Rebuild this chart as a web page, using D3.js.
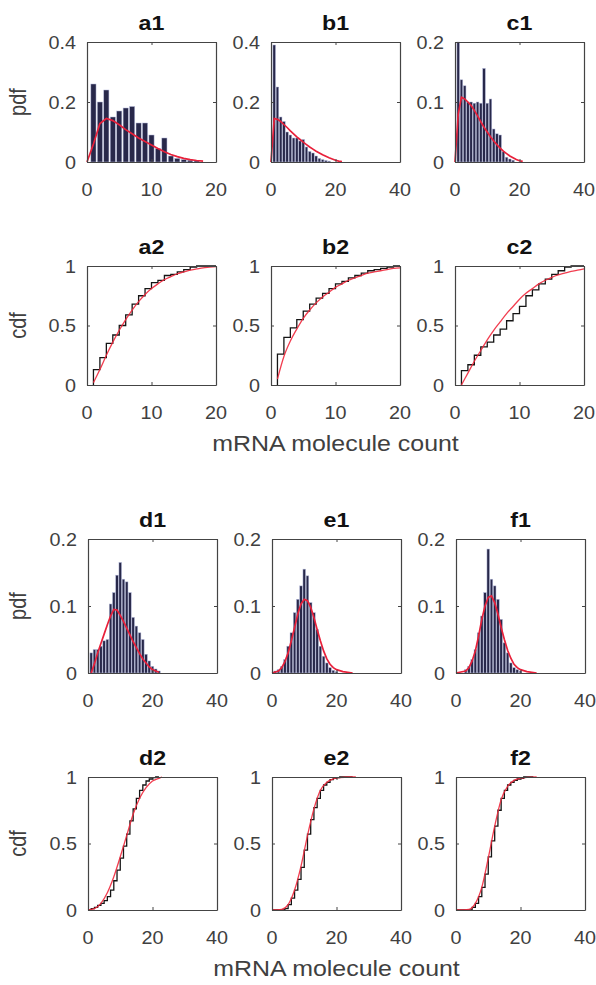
<!DOCTYPE html>
<html>
<head>
<meta charset="utf-8">
<script src="https://cdn.jsdelivr.net/npm/d3@7/dist/d3.min.js"></script>
<style>
  body { margin: 0; background: #fff; }
  text { font-family: "Liberation Sans", Arial, sans-serif; }
</style>
</head>
<body>
<svg id="fig" width="596" height="985"></svg>
<script>
// histogram bars, [count, pdf]
const a1Bars = [[1,0.26],[2,0.20],[3,0.24],[4,0.15],[5,0.17],[6,0.18],[7,0.185],[8,0.13],[9,0.13],[10,0.09],[11,0.045],[12,0.08],[13,0.02],[14,0.012],[15,0.008],[16,0.006],[17,0.004]];
const b1Bars = [[1,0.39],[2,0.25],[3,0.15],[4,0.135],[5,0.10],[6,0.09],[7,0.08],[8,0.08],[9,0.07],[10,0.075],[11,0.05],[12,0.035],[13,0.03],[14,0.02],[15,0.012],[16,0.008],[17,0.005],[18,0.003]];
const c1Bars = [[1,0.2],[2,0.137],[3,0.127],[4,0.10],[5,0.10],[6,0.098],[7,0.10],[8,0.098],[9,0.156],[10,0.098],[11,0.105],[12,0.055],[13,0.047],[14,0.045],[15,0.017],[16,0.008],[17,0.005],[18,0.003]];
const d1Bars = [[1,0.03],[2,0.035],[3,0.035],[4,0.04],[5,0.048],[6,0.05],[7,0.103],[8,0.12],[9,0.146],[10,0.165],[11,0.14],[12,0.136],[13,0.12],[14,0.083],[15,0.07],[16,0.06],[17,0.05],[18,0.028],[19,0.018],[20,0.01],[21,0.006],[22,0.003]];
const e1Bars = [[1,0.003],[2,0.005],[3,0.01],[4,0.02],[5,0.04],[6,0.06],[7,0.09],[8,0.11],[9,0.13],[10,0.155],[11,0.145],[12,0.105],[13,0.09],[14,0.065],[15,0.04],[16,0.025],[17,0.015],[18,0.008],[19,0.004],[20,0.002]];
const f1Bars = [[3,0.005],[4,0.01],[5,0.02],[6,0.035],[7,0.06],[8,0.085],[9,0.12],[10,0.185],[11,0.14],[12,0.13],[13,0.11],[14,0.08],[15,0.045],[16,0.03],[17,0.015],[18,0.008],[19,0.005],[20,0.003]];

// fitted pdf (red)
const a1Fit = [[0,0],[1,0.06],[2,0.128],[3,0.145],[4,0.138],[5,0.124],[6,0.108],[7,0.094],[8,0.08],[9,0.068],[10,0.057],[11,0.045],[12,0.034],[13,0.025],[14,0.018],[15,0.012],[16,0.008],[17,0.005],[18,0.003]];
const b1Fit = [[0,0],[1,0.145],[2,0.142],[3,0.135],[4,0.125],[5,0.115],[6,0.104],[7,0.094],[8,0.084],[9,0.075],[10,0.066],[11,0.058],[12,0.05],[13,0.043],[14,0.036],[15,0.03],[16,0.024],[17,0.019],[18,0.014],[19,0.01],[20,0.006],[21,0.003],[22,0.001]];
const c1Fit = [[0,0],[1,0.08],[2,0.108],[3,0.105],[4,0.1],[5,0.094],[6,0.086],[7,0.077],[8,0.067],[9,0.058],[10,0.05],[11,0.042],[12,0.035],[13,0.029],[14,0.023],[15,0.018],[16,0.014],[17,0.01],[18,0.007],[19,0.004],[20,0.002],[21,0.001]];
const d1Fit = [[1,0],[2,0.014],[3,0.03],[4,0.044],[5,0.058],[6,0.072],[7,0.085],[8,0.095],[9,0.094],[10,0.086],[11,0.077],[12,0.067],[13,0.057],[14,0.047],[15,0.038],[16,0.029],[17,0.021],[18,0.015],[19,0.009],[20,0.005],[21,0.003],[22,0.001]];
const e1Fit = [[0,0],[2,0.003],[3,0.008],[4,0.017],[5,0.03],[6,0.048],[7,0.068],[8,0.088],[9,0.103],[10,0.11],[11,0.108],[12,0.098],[13,0.083],[14,0.065],[15,0.048],[16,0.033],[17,0.021],[18,0.013],[19,0.008],[20,0.005],[22,0.002],[25,0]];
const f1Fit = [[0,0],[3,0.003],[4,0.008],[5,0.018],[6,0.033],[7,0.055],[8,0.08],[9,0.1],[10,0.113],[11,0.115],[12,0.105],[13,0.088],[14,0.068],[15,0.05],[16,0.034],[17,0.022],[18,0.013],[19,0.008],[20,0.005],[22,0.002],[25,0]];

// empirical cdf (black stairs)
const a2Stair = [[1,0],[1,0.13],[2,0.23],[3,0.35],[4,0.42],[5,0.50],[6,0.59],[7,0.68],[8,0.75],[9,0.81],[10,0.86],[11,0.88],[12,0.92],[13,0.93],[14,0.95],[15,0.97],[16,0.99],[17,1.0],[20,1.0]];
const b2Stair = [[1,0],[1,0.26],[2,0.40],[3,0.48],[4,0.55],[5,0.62],[6,0.68],[7,0.73],[8,0.77],[9,0.81],[10,0.85],[11,0.87],[12,0.90],[13,0.92],[14,0.94],[15,0.96],[16,0.97],[17,0.98],[18,0.99],[19,1.0],[20,1.0]];
const c2Stair = [[1,0],[1,0.12],[2,0.17],[3,0.25],[4,0.32],[5,0.36],[6,0.42],[7,0.47],[8,0.54],[9,0.60],[10,0.66],[11,0.75],[12,0.80],[13,0.85],[14,0.89],[15,0.93],[16,0.96],[17,0.99],[18,1.0],[20,1.0]];
const d2Stair = [[0,0],[1,0.01],[2,0.02],[3,0.035],[4,0.05],[5,0.07],[6,0.1],[7,0.15],[8,0.22],[9,0.3],[10,0.39],[11,0.48],[12,0.57],[13,0.67],[14,0.76],[15,0.84],[16,0.9],[17,0.94],[18,0.97],[19,0.985],[20,0.995],[21,1.0],[22,1.0]];
const e2Stair = [[0,0],[3,0],[4,0.01],[5,0.04],[6,0.09],[7,0.15],[8,0.23],[9,0.32],[10,0.45],[11,0.57],[12,0.68],[13,0.77],[14,0.84],[15,0.9],[16,0.94],[17,0.96],[18,0.98],[19,0.99],[20,0.995],[21,1],[25,1]];
const f2Stair = [[0,0],[4,0],[5,0.02],[6,0.05],[7,0.10],[8,0.17],[9,0.27],[10,0.4],[11,0.52],[12,0.63],[13,0.75],[14,0.84],[15,0.9],[16,0.94],[17,0.96],[18,0.975],[19,0.985],[20,0.99],[21,1],[24,1]];

// fitted cdf (red)
const a2Fit = [[1,0.02],[2,0.13],[3,0.25],[4,0.36],[5,0.46],[6,0.55],[7,0.63],[8,0.70],[9,0.76],[10,0.81],[11,0.85],[12,0.885],[13,0.91],[14,0.935],[15,0.95],[16,0.965],[17,0.975],[18,0.985],[19,0.99],[20,0.995]];
const b2Fit = [[1,0.05],[2,0.24],[3,0.37],[4,0.47],[5,0.56],[6,0.63],[7,0.69],[8,0.74],[9,0.78],[10,0.82],[11,0.85],[12,0.88],[13,0.90],[14,0.92],[15,0.94],[16,0.95],[17,0.96],[18,0.97],[19,0.98],[20,0.985]];
const c2Fit = [[1,0],[2,0.1],[3,0.2],[4,0.29],[5,0.38],[6,0.46],[7,0.53],[8,0.6],[9,0.66],[10,0.72],[11,0.77],[12,0.81],[13,0.85],[14,0.88],[15,0.905],[16,0.925],[17,0.94],[18,0.955],[19,0.965],[20,0.975]];
const d2Fit = [[0,0],[2,0.01],[4,0.05],[6,0.13],[8,0.25],[10,0.4],[12,0.56],[14,0.72],[16,0.84],[18,0.92],[20,0.97],[22,0.99],[23,1.0]];
const e2Fit = [[0,0],[3,0.005],[5,0.04],[7,0.15],[9,0.33],[11,0.56],[13,0.76],[15,0.9],[17,0.96],[19,0.985],[21,0.995],[24,1.0],[26,1.0]];
const f2Fit = [[0,0],[4,0.005],[6,0.05],[8,0.17],[10,0.39],[12,0.63],[14,0.83],[16,0.93],[18,0.975],[20,0.99],[22,0.997],[25,1]];

const pdfTicksHi = [0, 0.2, 0.4];
const pdfTicksLo = [0, 0.1, 0.2];
const cdfTicks = [0, 0.5, 1];
const xTicks20 = [0, 10, 20];
const xTicks40 = [0, 20, 40];
const xLabel = 'mRNA molecule count';

const panels = [
  {t:'a1', col:0, row:0, bars:a1Bars, fit:a1Fit, xt:xTicks20, yt:pdfTicksHi},
  {t:'b1', col:1, row:0, bars:b1Bars, fit:b1Fit, xt:xTicks40, yt:pdfTicksHi},
  {t:'c1', col:2, row:0, bars:c1Bars, fit:c1Fit, xt:xTicks40, yt:pdfTicksLo},
  {t:'a2', col:0, row:1, stair:a2Stair, fit:a2Fit, xt:xTicks20, yt:cdfTicks},
  {t:'b2', col:1, row:1, stair:b2Stair, fit:b2Fit, xt:xTicks20, yt:cdfTicks},
  {t:'c2', col:2, row:1, stair:c2Stair, fit:c2Fit, xt:xTicks20, yt:cdfTicks},
  {t:'d1', col:0, row:2, bars:d1Bars, fit:d1Fit, xt:xTicks40, yt:pdfTicksLo},
  {t:'e1', col:1, row:2, bars:e1Bars, fit:e1Fit, xt:xTicks40, yt:pdfTicksLo},
  {t:'f1', col:2, row:2, bars:f1Bars, fit:f1Fit, xt:xTicks40, yt:pdfTicksLo},
  {t:'d2', col:0, row:3, stair:d2Stair, fit:d2Fit, xt:xTicks40, yt:cdfTicks},
  {t:'e2', col:1, row:3, stair:e2Stair, fit:e2Fit, xt:xTicks40, yt:cdfTicks},
  {t:'f2', col:2, row:3, stair:f2Stair, fit:f2Fit, xt:xTicks40, yt:cdfTicks}
];

// layout
const colsTop = [87, 271, 455], colsBot = [88, 272, 456];
const rowTop = [42, 266, 539, 777];
const rowH = [120, 119, 134, 133];
const pw = 129;
const tickStretch = 1.07;   // text in the source is a bit wide
const labStretch = 1.16;
const grey = '#404040';

const svg = d3.select('#fig');

function fmt(d) { return String(d); }

panels.forEach(p => {
  const left = (p.row < 2 ? colsTop : colsBot)[p.col];
  const top = rowTop[p.row], h = rowH[p.row];
  const g = svg.append('g').attr('transform', `translate(${left},${top})`);

  const x = d3.scaleLinear().domain([p.xt[0], p.xt[2]]).range([0, pw]);
  const y = d3.scaleLinear().domain([p.yt[0], p.yt[2]]).range([h, 0]);

  if (p.bars) {
    const bw = (x(1) - x(0)) * 0.8;
    g.selectAll('rect.bar').data(p.bars).enter().append('rect')
      .attr('class', 'bar')
      .attr('x', d => x(d[0]) - bw / 2)
      .attr('y', d => y(d[1]))
      .attr('width', bw)
      .attr('height', d => h - y(d[1]))
      .attr('fill', '#28284a')
      .attr('stroke', '#b4b9da')
      .attr('stroke-width', 0.5);
    g.append('path').datum(p.fit)
      .attr('d', d3.line().x(d => x(d[0])).y(d => y(d[1])))
      .attr('fill', 'none').attr('stroke', '#e8203a').attr('stroke-width', 1.7);
  } else {
    g.append('path').datum(p.stair)
      .attr('d', d3.line().x(d => x(d[0])).y(d => y(d[1])).curve(d3.curveStepAfter))
      .attr('fill', 'none').attr('stroke', '#151515').attr('stroke-width', 1.3);
    g.append('path').datum(p.fit)
      .attr('d', d3.line().x(d => x(d[0])).y(d => y(d[1])).curve(d3.curveMonotoneX))
      .attr('fill', 'none').attr('stroke', '#f0283c').attr('stroke-width', 1.3)
      .attr('stroke-opacity', 0.9);
  }

  // box and inward ticks
  const ax = (axis, tr) => {
    const a = g.append('g').attr('transform', tr).call(axis);
    a.select('.domain').attr('stroke', '#444').attr('stroke-width', 1.2);
    a.selectAll('.tick line').attr('stroke', '#444');
    a.selectAll('.tick text').remove();
  };
  ax(d3.axisBottom(x).tickValues(p.xt).tickSizeInner(-3).tickSizeOuter(0), `translate(0,${h})`);
  ax(d3.axisTop(x).tickValues(p.xt).tickSizeInner(-3).tickSizeOuter(0), 'translate(0,0)');
  ax(d3.axisLeft(y).tickValues(p.yt).tickSizeInner(-3).tickSizeOuter(0), 'translate(0,0)');
  ax(d3.axisRight(y).tickValues(p.yt).tickSizeInner(-3).tickSizeOuter(0), `translate(${pw},0)`);

  // tick labels
  p.xt.forEach(v => {
    g.append('text')
      .attr('transform', `translate(${x(v)},${h + 34}) scale(${tickStretch},1)`)
      .attr('text-anchor', 'middle').attr('font-size', 18.5).attr('fill', grey)
      .text(fmt(v));
  });
  p.yt.forEach(v => {
    g.append('text')
      .attr('transform', `translate(-11,${y(v) + 6.5}) scale(${tickStretch},1)`)
      .attr('text-anchor', 'end').attr('font-size', 18.5).attr('fill', grey)
      .text(fmt(v));
  });

  // title
  g.append('text')
    .attr('transform', `translate(${pw / 2},${-12}) scale(${labStretch},1)`)
    .attr('text-anchor', 'middle').attr('font-size', 20).attr('font-weight', 'bold')
    .attr('fill', '#111').text(p.t);

  if (p.col === 0) {
    g.append('text')
      .attr('transform', `translate(${26 - left},${h / 2}) scale(${labStretch},1) rotate(-90)`)
      .attr('text-anchor', 'middle').attr('font-size', 20).attr('fill', grey)
      .text(p.bars ? 'pdf' : 'cdf');
  }
  if (p.col === 1 && (p.row === 1 || p.row === 3)) {
    g.append('text')
      .attr('transform', `translate(${pw / 2},${h + 66}) scale(${labStretch},1)`)
      .attr('text-anchor', 'middle').attr('font-size', 21.5).attr('fill', grey)
      .text(xLabel);
  }
});
</script>
</body>
</html>
